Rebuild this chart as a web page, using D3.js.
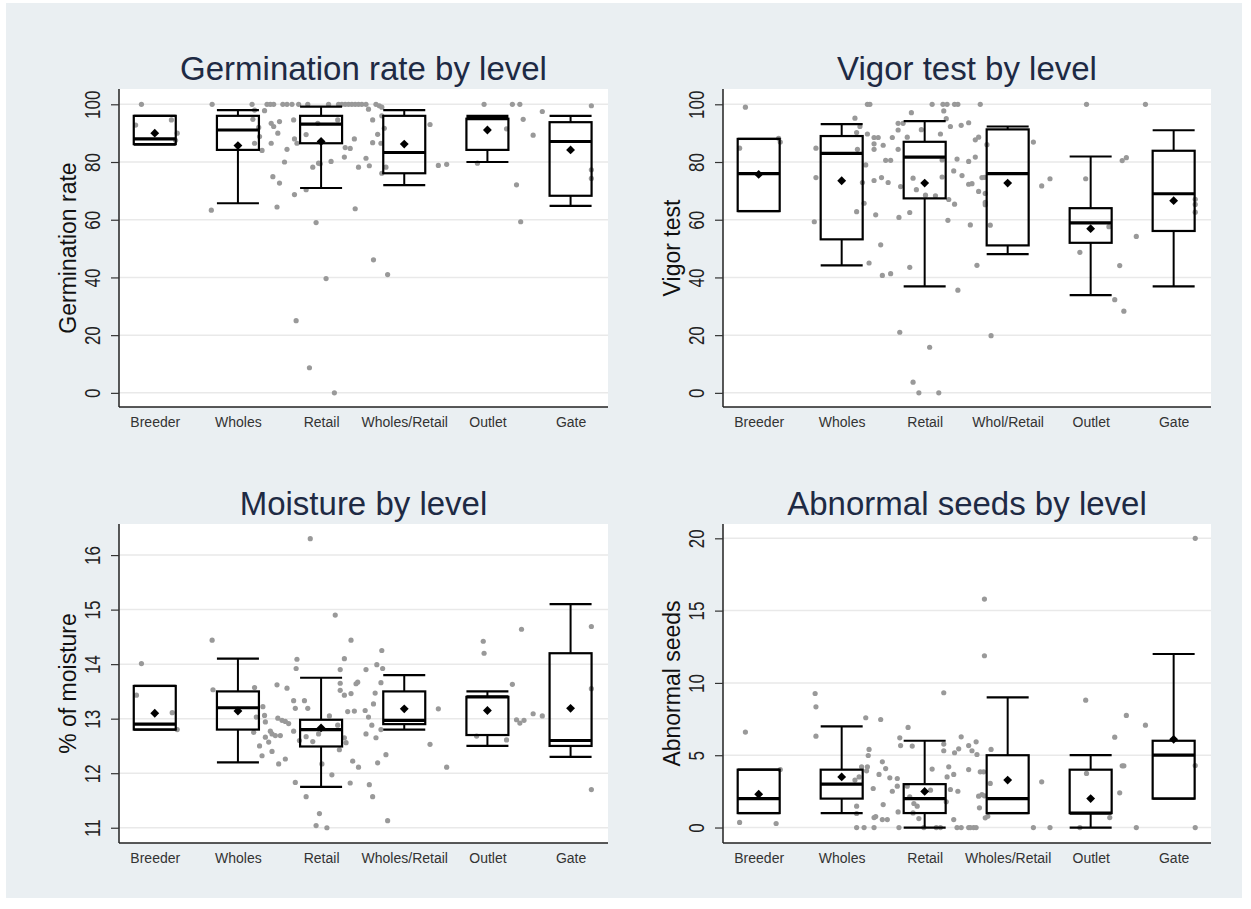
<!DOCTYPE html>
<html>
<head>
<meta charset="utf-8">
<script src="https://cdn.jsdelivr.net/npm/d3@7"></script>
<style>
  body { margin: 0; background: #fff; }
  text { font-family: "Liberation Sans", Arial, sans-serif; }
</style>
</head>
<body>
<svg width="1251" height="909"></svg>
<script>
// categories
var levelsA = ["Breeder", "Wholes", "Retail", "Wholes/Retail", "Outlet", "Gate"];
var levelsB = ["Breeder", "Wholes", "Retail", "Whol/Retail", "Outlet", "Gate"];

// box stats per level: [lower whisker, q1, median, q3, upper whisker, mean]
var germBox = [
  [86, 86.2, 88, 96, 96, 90],
  [65.7, 84.2, 91.1, 96, 98, 85.7],
  [71, 86.5, 93.1, 96, 99.2, 87.1],
  [72, 76.1, 83.3, 96, 98, 86.2],
  [80, 84.2, 95, 95, 96, 91.1],
  [64.8, 68.3, 87.1, 93.8, 96, 84.2]
];
var vigorBox = [
  [63, 63, 76, 88, 88, 75.7],
  [44.2, 53.2, 83, 89, 93.1, 73.5],
  [36.9, 67.4, 81.7, 87, 94.2, 72.7],
  [48.1, 51.1, 76, 91.3, 92.3, 72.7],
  [33.9, 52, 58.9, 64, 81.9, 56.9],
  [36.9, 56.1, 69, 83.9, 91, 66.6]
];
var moistBox = [
  [12.8, 12.8, 12.9, 13.6, 13.6, 13.1],
  [12.2, 12.8, 13.2, 13.5, 14.1, 13.14],
  [11.75, 12.49, 12.8, 12.98, 13.75, 12.83],
  [12.8, 12.9, 12.97, 13.5, 13.8, 13.18],
  [12.5, 12.7, 13.4, 13.4, 13.5, 13.15],
  [12.3, 12.5, 12.6, 14.2, 15.1, 13.19]
];
var abnBox = [
  [1, 1, 2, 4, 4, 2.3],
  [1, 2, 3, 4, 7, 3.5],
  [0, 1, 2, 3, 6, 2.5],
  [1, 1, 2, 5, 9, 3.28],
  [0, 1, 1, 4, 5, 2.0],
  [2, 2, 5, 6, 12, 6.1]
];

// jittered observations: [level position, value]
var germPts = [
  [-0.16,100],[-0.23,92.8],[0.2,94.6],[0.27,90],[0.25,87.5],
  [0.69,100],[0.68,63.3],[1.17,100],[1.2,98],[1.18,94.8],[1.25,92],[1.26,88.8],[1.2,86.5],[1.29,84],
  [1.35,100],[1.39,100],[1.43,100],[1.32,97.8],[1.4,93.4],[1.43,92.3],[1.48,90],[1.5,94],[1.4,86.5],
  [1.42,74.9],[1.5,72.7],[1.47,64.4],[1.56,80],[1.59,84.4],
  [1.54,100],[1.59,100],[1.65,100],[1.73,100],[1.84,100],
  [1.67,94.6],[1.68,88],[1.71,86.5],[1.68,68.7],[1.82,89.5],[1.82,70.4],[1.9,78.2],[1.97,79.6],[1.99,79.4],
  [1.94,59],[2.06,39.6],[1.7,25],[1.86,8.7],[2.16,0],[1.96,93.4],
  [2.09,100],[2.21,100],[2.25,100],[2.29,100],[2.33,100],[2.37,100],[2.41,100],[2.45,100],[2.49,100],
  [2.2,94.6],[2.12,80.2],[2.28,81.7],[2.29,85],[2.35,84.7],[2.4,88],[2.45,78.2],[2.41,63.8],
  [2.54,100],[2.57,98.3],[2.66,100],[2.7,99.5],[2.73,99],[2.62,94.6],[2.73,96],[2.76,91.7],[2.68,89.6],
  [2.62,86.7],[2.72,86.5],[2.54,81.3],[2.58,78.7],[2.78,78.2],[2.73,76.1],[2.63,46.1],[2.8,41],
  [3.31,93],[3.41,78.8],[3.51,79.2],[3.96,100],[4.23,91.5],[3.88,79.6],[4.3,100],[4.39,100],
  [4.43,94.8],[4.55,89.3],[4.35,72.1],[4.4,59.3],[4.66,97.5],[5.25,99.5],[5.25,77.3],[5.25,74.3]
];
var vigorPts = [
  [-0.16,99],[-0.23,84.8],[0.24,88.2],[0.26,86.9],
  [0.69,84.8],[0.69,74.6],[0.67,59.3],
  [1.16,95.2],[1.18,90.2],[1.22,92.3],[1.19,84.4],[1.29,79],[1.25,72.9],[1.27,65.7],[1.18,62.8],[1.33,45],
  [1.31,100],[1.34,100],[1.31,89.7],[1.39,88.5],[1.44,88.5],[1.39,86.3],[1.39,84.4],[1.5,85.8],[1.53,80.6],[1.59,80.6],
  [1.39,73.6],[1.48,74.6],[1.56,72.9],[1.41,61.7],[1.47,51.3],[1.49,40.7],[1.59,41.3],
  [1.61,88.5],[1.68,93.4],[1.74,93.4],[1.68,91.1],[1.68,84.4],[1.71,71.5],[1.69,60.8],[1.82,62.5],[1.82,43.5],[1.7,21],
  [1.84,97.1],[1.79,88.6],[1.96,91.2],[1.86,74.4],[1.9,70.4],[2.01,68.5],[2.13,68.3],[2.06,15.8],[1.86,3.7],[1.93,0],[2.17,0],
  [2.09,100],[2.22,100],[2.27,100],[2.36,100],[2.4,100],[2.23,97.7],[2.26,95],[2.31,92.3],[2.44,92.7],[2.53,93.6],[2.19,89.7],
  [2.39,81],[2.53,80.2],[2.21,80.7],[2.35,76.9],[2.45,75.3],[2.21,74.8],[2.29,67],[2.36,65.4],[2.53,72.3],[2.28,59.8],[2.4,35.6],[2.55,58.2],
  [2.67,100],[2.61,87.7],[2.65,88.6],[2.75,86],[2.61,81.7],[2.57,72.5],[2.69,74.6],[2.72,74.7],[2.65,69.8],[2.73,69.1],
  [2.73,66],[2.73,65.2],[2.79,58.1],[2.63,44.2],[2.8,19.8],
  [3.31,86.9],[3.41,71.7],[3.51,74.2],[3.95,100],[3.94,74.2],[4.22,57.6],[4.38,80.5],[4.43,81.5],[4.55,54.2],
  [3.87,48.7],[4.35,44.1],[4.29,32.3],[4.4,28.3],[4.66,100],[5.26,67.1],[5.26,65.3],[5.26,62.6]
];
var moistPts = [
  [-0.16,14.01],[-0.22,13.43],[0.21,13.11],[0.27,12.8],
  [0.69,14.44],[0.7,13.53],[1.2,13.57],[1.3,13.22],[1.32,13.06],[1.22,13.03],[1.33,12.94],[1.19,12.75],[1.26,12.5],
  [1.33,12.66],[1.39,12.77],[1.41,12.72],[1.45,12.69],[1.51,12.69],[1.37,12.57],[1.41,12.4],[1.29,12.32],[1.49,12.17],[1.57,12.26],
  [1.47,13.62],[1.59,13.56],[1.48,13.01],[1.53,12.97],[1.57,12.95],[1.61,12.91],[1.67,13.33],[1.69,13.19],[1.67,12.77],
  [1.71,14.09],[1.7,13.92],[1.8,13.33],[1.84,13.19],[1.74,12.6],[1.82,12.67],[1.9,12.58],[1.97,12.72],
  [1.69,11.83],[1.82,11.57],[1.87,16.3],[1.98,11.26],[1.94,11.04],[2.07,11.0],
  [2.17,14.9],[2.36,14.44],[2.28,14.1],[2.23,13.9],[2.23,13.65],[2.23,13.52],[2.28,13.43],[2.36,13.46],[2.42,13.64],[2.44,13.67],
  [2.32,13.13],[2.4,13.14],[2.1,13.05],[2.2,12.88],[2.28,12.65],[2.3,12.56],[2.22,12.43],[2.01,12.17],[2.13,11.97],[2.38,12.22],[2.45,12.11],[2.35,11.82],
  [2.73,14.25],[2.54,13.9],[2.67,13.99],[2.74,13.92],[2.72,13.66],[2.65,13.47],[2.63,13.27],[2.53,13.15],[2.57,13.03],
  [2.61,12.88],[2.72,12.8],[2.54,12.72],[2.66,12.65],[2.68,12.19],[2.78,12.34],[2.58,11.79],[2.62,11.57],[2.8,11.13],
  [3.41,13.18],[3.31,12.53],[3.51,12.11],[3.95,14.42],[3.96,14.2],[3.87,12.68],[4.23,12.61],[4.3,13.63],[4.41,14.64],
  [4.35,12.98],[4.39,12.92],[4.44,12.97],[4.55,13.09],[4.66,13.05],[5.25,14.69],[5.25,13.55],[5.25,11.7]
];
var abnPts = [
  [-0.16,6.6],[-0.23,0.35],[0.21,0.28],[0.26,4.01],
  [0.68,9.27],[0.69,8.35],[0.69,6.32],
  [1.29,7.59],[1.47,7.47],[1.33,5.4],[1.32,4.98],[1.31,4.2],[1.24,4.2],[1.3,3.92],[1.21,3.5],[1.16,3.28],[1.49,4.54],
  [1.53,4.08],[1.45,3.67],[1.58,3.44],[1.67,3.39],[1.38,2.7],[1.5,1.59],[1.61,2.51],[1.18,1.48],[1.18,0.97],[1.39,0.69],
  [1.41,0.76],[1.49,0.55],[1.55,0.55],[1.18,0],[1.27,0],[1.39,0],[1.69,0],
  [1.67,2.86],[1.68,1.08],[1.7,6.2],[1.71,5.67],[1.8,6.92],[1.85,5.63],[1.79,2.86],[1.82,2.12],[1.87,1.66],[1.91,1.48],
  [1.86,1.01],[1.93,0.62],[1.99,0],
  [2.09,4.04],[2.07,2.58],[2.23,9.32],[2.23,5.77],[2.23,5.31],[2.29,4.2],[2.27,3.5],[2.35,3.67],[2.41,5.44],[2.44,6.27],
  [2.36,5.17],[2.53,5.67],[2.53,4.01],[2.31,2.63],[2.4,2.51],[2.26,1.78],[2.35,0.55],[2.14,0],[2.19,0],[2.39,0],[2.44,0],[2.53,0],
  [2.62,5.93],[2.57,5.31],[2.63,5.05],[2.8,5.4],[2.67,3.85],[2.71,3.85],[2.79,3.05],[2.65,2.17],[2.69,2.28],[2.72,2.19],
  [2.66,1.36],[2.73,0.67],[2.76,0.78],[2.55,0],[2.59,0],[2.62,0],[2.72,15.8],[2.72,11.88],
  [3.41,3.16],[3.31,0],[3.51,0],[3.94,8.81],[3.95,3.74],[3.87,0],[4.23,0.69],[4.35,2.4],[4.29,6.25],[4.38,4.27],
  [4.4,4.27],[4.43,7.75],[4.66,7.08],[4.55,0],[5.26,20],[5.26,4.29],[5.26,0]
];

// tick labels
var pctTicks = [0, 20, 40, 60, 80, 100];
var moistTicks = [11, 12, 13, 14, 15, 16];
var abnTicks = [0, 5, 10, 15, 20];

var svg = d3.select("svg");

// page background
svg.append("rect").attr("x", 6).attr("y", 3).attr("width", 1236).attr("height", 895)
  .attr("fill", "#eaeff2");

var panels = [
  {title: "Germination rate by level", ytitle: "Germination rate", levels: levelsA, box: germBox, pts: germPts,
   ydom: [-4.9, 105.3], ticks: pctTicks, x0: 119, x1: 608, y0: 89, y1: 407},
  {title: "Vigor test by level", ytitle: "Vigor test", levels: levelsB, box: vigorBox, pts: vigorPts,
   ydom: [-4.9, 105.3], ticks: pctTicks, x0: 723, x1: 1211, y0: 89, y1: 407},
  {title: "Moisture by level", ytitle: "% of moisture", levels: levelsA, box: moistBox, pts: moistPts,
   ydom: [10.72, 16.57], ticks: moistTicks, x0: 119, x1: 608, y0: 524, y1: 843},
  {title: "Abnormal seeds by level", ytitle: "Abnormal seeds", levels: levelsA, box: abnBox, pts: abnPts,
   ydom: [-1.07, 20.99], ticks: abnTicks, x0: 723, x1: 1211, y0: 524, y1: 843}
];

panels.forEach(function (p) {
  var x = d3.scaleLinear().domain([-0.43, 5.45]).range([p.x0, p.x1]);
  var y = d3.scaleLinear().domain(p.ydom).range([p.y1, p.y0]);
  var g = svg.append("g");

  // plot region
  g.append("rect").attr("x", p.x0).attr("y", p.y0)
    .attr("width", p.x1 - p.x0).attr("height", p.y1 - p.y0).attr("fill", "#fff");

  // gridlines
  g.selectAll(".grid").data(p.ticks).enter().append("line")
    .attr("x1", p.x0).attr("x2", p.x1)
    .attr("y1", function (d) { return y(d); }).attr("y2", function (d) { return y(d); })
    .attr("stroke", "#e9e9e9").attr("stroke-width", 1.5);

  // title
  g.append("text").attr("x", (p.x0 + p.x1) / 2).attr("y", p.y0 - 9)
    .attr("text-anchor", "middle").attr("font-size", 33).attr("fill", "#1e2a44")
    .text(p.title);

  // y axis, labels turned and drawn tall like the original
  var ya = g.append("g").attr("transform", "translate(" + p.x0 + ",0)")
    .call(d3.axisLeft(y).tickValues(p.ticks).tickSize(8).tickFormat(d3.format("d")));
  ya.select(".domain").attr("d", "M0," + p.y0 + "V" + p.y1).attr("stroke", "#222").attr("stroke-width", 1.5);
  ya.selectAll(".tick line").attr("stroke", "#333").attr("stroke-width", 1.2);
  ya.selectAll(".tick text")
    .attr("transform", "rotate(-90) scale(1,1.35)")
    .attr("x", 0).attr("y", -19 / 1.35).attr("dy", 0)
    .attr("text-anchor", "middle").attr("font-size", 17).attr("fill", "#222");

  g.append("text")
    .attr("transform", "translate(" + (p.x0 - 43) + "," + ((p.y0 + p.y1) / 2) + ") rotate(-90)")
    .attr("text-anchor", "middle").attr("font-size", 23).attr("fill", "#111")
    .text(p.ytitle);

  // x axis
  var xa = g.append("g").attr("transform", "translate(0," + p.y1 + ")")
    .call(d3.axisBottom(x).tickValues([0, 1, 2, 3, 4, 5]).tickSize(0)
      .tickFormat(function (i) { return p.levels[i]; }));
  xa.select(".domain").attr("d", "M" + p.x0 + ",0H" + p.x1).attr("stroke", "#222").attr("stroke-width", 1.5);
  xa.selectAll(".tick text").attr("y", 20).attr("dy", 0)
    .attr("font-size", 14).attr("fill", "#333");

  // observations
  g.selectAll(".pt").data(p.pts).enter().append("circle")
    .attr("cx", function (d) { return x(d[0]); })
    .attr("cy", function (d) { return y(d[1]); })
    .attr("r", 2.6).attr("fill", "#999");

  // boxes
  var bw = 42;
  var bx = g.selectAll(".box").data(p.box).enter().append("g");
  bx.append("line")
    .attr("x1", function (d, i) { return x(i); }).attr("x2", function (d, i) { return x(i); })
    .attr("y1", function (d) { return y(d[4]); }).attr("y2", function (d) { return y(d[3]); })
    .attr("stroke", "#000").attr("stroke-width", 2);
  bx.append("line")
    .attr("x1", function (d, i) { return x(i); }).attr("x2", function (d, i) { return x(i); })
    .attr("y1", function (d) { return y(d[1]); }).attr("y2", function (d) { return y(d[0]); })
    .attr("stroke", "#000").attr("stroke-width", 2);
  [0, 4].forEach(function (k) {
    bx.append("line")
      .attr("x1", function (d, i) { return x(i) - bw / 2; }).attr("x2", function (d, i) { return x(i) + bw / 2; })
      .attr("y1", function (d) { return y(d[k]); }).attr("y2", function (d) { return y(d[k]); })
      .attr("stroke", "#000").attr("stroke-width", 2.2);
  });
  bx.append("rect")
    .attr("x", function (d, i) { return x(i) - bw / 2; })
    .attr("y", function (d) { return y(d[3]); })
    .attr("width", bw)
    .attr("height", function (d) { return y(d[1]) - y(d[3]); })
    .attr("fill", "none").attr("stroke", "#000").attr("stroke-width", 2.2);
  bx.append("line")
    .attr("x1", function (d, i) { return x(i) - bw / 2; }).attr("x2", function (d, i) { return x(i) + bw / 2; })
    .attr("y1", function (d) { return y(d[2]); }).attr("y2", function (d) { return y(d[2]); })
    .attr("stroke", "#000").attr("stroke-width", 3.2);
  // means
  bx.append("path")
    .attr("d", d3.symbol().type(d3.symbolDiamond2).size(50))
    .attr("transform", function (d, i) { return "translate(" + x(i) + "," + y(d[5]) + ")"; })
    .attr("fill", "#000");
});
</script>
</body>
</html>
